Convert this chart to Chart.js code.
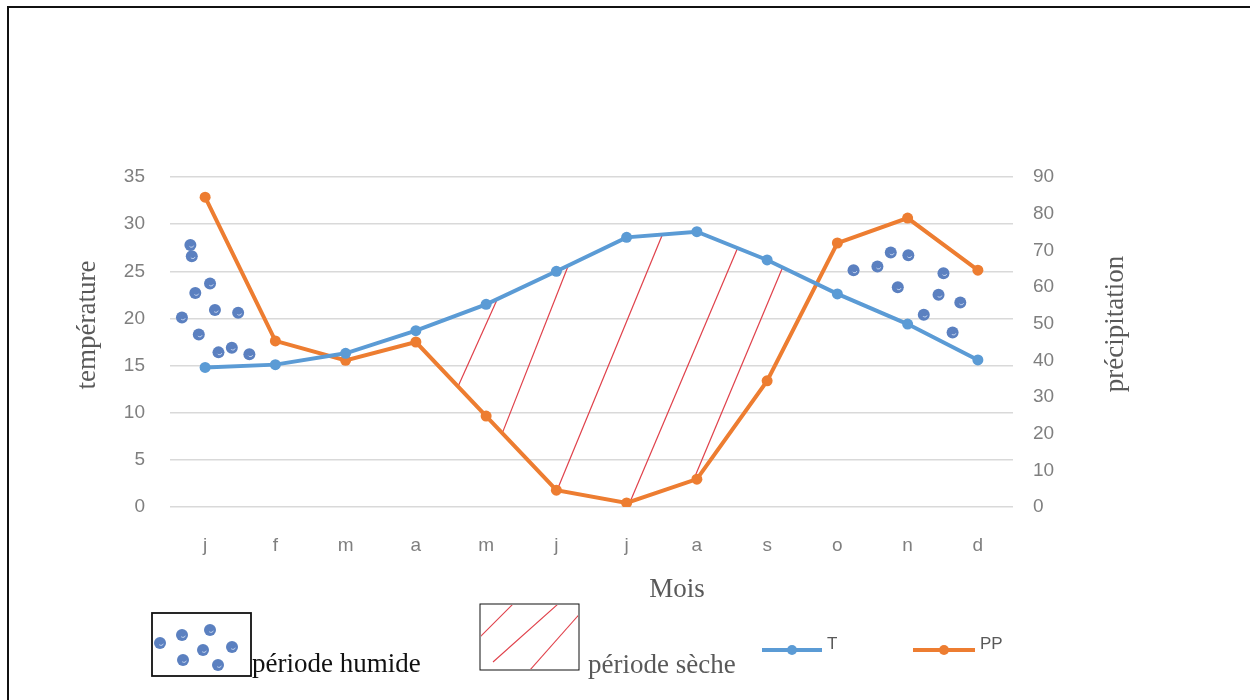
<!DOCTYPE html>
<html><head><meta charset="utf-8">
<script src="https://cdn.jsdelivr.net/npm/chart.js@4.4.1/dist/chart.umd.min.js"></script>
<style>
html,body{margin:0;padding:0;background:#fff;}
#wrap{position:relative;width:1250px;height:700px;overflow:hidden;}
#frame{position:absolute;left:7px;top:6px;width:1250px;height:700px;border-top:2px solid #111;border-left:2px solid #111;pointer-events:none;}
</style></head><body>
<div id="wrap"><canvas id="c" width="1250" height="700"></canvas><div id="frame"></div></div>
<script>
// ---- data ----
const months = ['j','f','m','a','m','j','j','a','s','o','n','d'];
const temperature = [14.8, 15.1, 16.3, 18.7, 21.5, 25.0, 28.6, 29.2, 26.2, 22.6, 19.4, 15.6];
const precipitation = [84.5, 45.3, 40.0, 45.0, 24.8, 4.6, 1.1, 7.6, 34.4, 72.0, 78.8, 64.6];
const tempTicks = [0, 5, 10, 15, 20, 25, 30, 35];
const precipTicks = [0, 10, 20, 30, 40, 50, 60, 70, 80, 90];
// dry-period hatch strokes: [month index on PP curve, month index on T curve]
const dryHatchFrom = [3.60, 4.23, 5.01, 6.05, 6.95];
const dryHatchTo   = [4.16, 5.17, 6.51, 7.58, 8.22];
// wet-period dots: month index and temperature-scale value
const humidDotsX = [-0.21,-0.19,0.07,-0.14,0.14,0.47,-0.33,-0.09,0.19,0.38,0.63, 9.23,9.57,9.76,10.01,9.86,10.51,10.44,10.75,10.23,10.64];
const humidDotsY = [27.8,26.6,23.7,22.7,20.9,20.6,20.1,18.3,16.4,16.9,16.2, 25.1,25.5,27.0,26.7,23.3,24.8,22.5,21.7,20.4,18.5];

const BLUE = '#5b9bd5', ORANGE = '#ed7d31', DOT = '#5b80c0', HATCH = '#e0404a';

function interp(arr, t) {
  const i = Math.max(0, Math.min(arr.length - 2, Math.floor(t)));
  const f = t - i;
  return arr[i] + (arr[i + 1] - arr[i]) * f;
}
function drawDot(ctx, x, y, r) {
  ctx.beginPath(); ctx.arc(x, y, r, 0, Math.PI * 2);
  ctx.fillStyle = DOT; ctx.fill();
  ctx.strokeStyle = 'rgba(230,240,255,0.7)'; ctx.lineWidth = 1;
  ctx.beginPath(); ctx.arc(x + 1, y, r * 0.4, 0.3, 2.5); ctx.stroke();
}

const decor = {
  id: 'decor',
  beforeDatasetsDraw(chart) {
    const {ctx, scales: {x, y, y1}} = chart;
    ctx.save();
    ctx.strokeStyle = HATCH; ctx.lineWidth = 1.2;
    for (let k = 0; k < dryHatchFrom.length; k++) {
      const a = dryHatchFrom[k], b = dryHatchTo[k];
      const x0 = x.getPixelForValue(a), y0 = y1.getPixelForValue(interp(precipitation, a));
      const x1 = x.getPixelForValue(b), yy1 = y.getPixelForValue(interp(temperature, b));
      ctx.beginPath(); ctx.moveTo(x0, y0); ctx.lineTo(x1, yy1); ctx.stroke();
    }
    for (let k = 0; k < humidDotsX.length; k++) {
      drawDot(ctx, x.getPixelForValue(humidDotsX[k]), y.getPixelForValue(humidDotsY[k]), 6);
    }
    ctx.restore();
  },
  afterDraw(chart) {
    const ctx = chart.ctx;
    ctx.save();
    // axis titles
    ctx.fillStyle = '#595959';
    ctx.font = '27px "Liberation Serif"';
    ctx.textAlign = 'center'; ctx.textBaseline = 'middle';
    ctx.save(); ctx.translate(88, 325); ctx.rotate(-Math.PI / 2); ctx.fillText('température', 0, 0); ctx.restore();
    ctx.save(); ctx.translate(1116, 324); ctx.rotate(-Math.PI / 2); ctx.fillText('précipitation', 0, 0); ctx.restore();
    ctx.textBaseline = 'alphabetic';
    ctx.fillText('Mois', 677, 597);

    // legend: wet period box
    ctx.strokeStyle = '#111'; ctx.lineWidth = 1.8;
    ctx.strokeRect(152, 613, 99, 63);
    [[160,643],[182,635],[210,630],[183,660],[203,650],[232,647],[218,665]].forEach(p => drawDot(ctx, p[0], p[1], 6));
    ctx.textAlign = 'left';
    ctx.fillStyle = '#111';
    ctx.fillText('période humide', 252, 672);
    // dry period box
    ctx.strokeStyle = '#111';
    ctx.strokeRect(480, 604, 99, 66);
    ctx.save();
    ctx.beginPath(); ctx.rect(481, 605, 97, 64); ctx.clip();
    ctx.strokeStyle = HATCH; ctx.lineWidth = 1.1;
    [[480,637,515,602],[493,662,558,604],[530,670,584,609]].forEach(l => { ctx.beginPath(); ctx.moveTo(l[0], l[1]); ctx.lineTo(l[2], l[3]); ctx.stroke(); });
    ctx.restore();
    ctx.fillStyle = '#595959';
    ctx.fillText('période sèche', 588, 673);
    // series legend
    const items = [[BLUE, 762, 822, 'T'], [ORANGE, 913, 975, 'PP']];
    items.forEach(it => {
      ctx.strokeStyle = it[0]; ctx.lineWidth = 4;
      ctx.beginPath(); ctx.moveTo(it[1], 650); ctx.lineTo(it[2], 650); ctx.stroke();
      ctx.beginPath(); ctx.arc((it[1] + it[2]) / 2, 650, 5, 0, Math.PI * 2); ctx.fillStyle = it[0]; ctx.fill();
      ctx.fillStyle = '#595959'; ctx.font = '17px "Liberation Sans"'; ctx.textBaseline = 'middle';
      ctx.fillText(it[3], it[2] + 5, 644);
    });
    ctx.restore();
  }
};

const tickFont = {family: '"Liberation Sans"', size: 19};
new Chart(document.getElementById('c'), {
  type: 'line',
  data: {
    labels: months,
    datasets: [
      {label: 'T', data: temperature, yAxisID: 'y', borderColor: BLUE, backgroundColor: BLUE,
       borderWidth: 4, pointRadius: 5.5, pointBorderWidth: 0, tension: 0},
      {label: 'PP', data: precipitation, yAxisID: 'y1', borderColor: ORANGE, backgroundColor: ORANGE,
       borderWidth: 4, pointRadius: 5.5, pointBorderWidth: 0, tension: 0}
    ]
  },
  options: {
    responsive: false, animation: false,
    layout: {padding: {top: 177, left: 0, right: 0, bottom: 0}},
    plugins: {legend: {display: false}, tooltip: {enabled: false}},
    scales: {
      x: {
        offset: true,
        grid: {display: false, drawTicks: false},
        border: {display: false},
        ticks: {color: '#7f7f7f', font: tickFont, padding: 27},
        afterFit: s => { s.height = 193; }
      },
      y: {
        position: 'left', min: 0, max: 35,
        afterBuildTicks: s => { s.ticks = tempTicks.map(v => ({value: v})); },
        grid: {color: '#d9d9d9', lineWidth: 1.5, drawTicks: false},
        border: {display: false},
        ticks: {color: '#7f7f7f', font: tickFont, padding: 25},
        afterFit: s => { s.width = 170; }
      },
      y1: {
        position: 'right', min: 0, max: 90,
        afterBuildTicks: s => { s.ticks = precipTicks.map(v => ({value: v})); },
        grid: {display: false, drawTicks: false},
        border: {display: false},
        ticks: {color: '#7f7f7f', font: tickFont, padding: 20},
        afterFit: s => { s.width = 237; }
      }
    }
  },
  plugins: [decor]
});
</script>
</body></html>
